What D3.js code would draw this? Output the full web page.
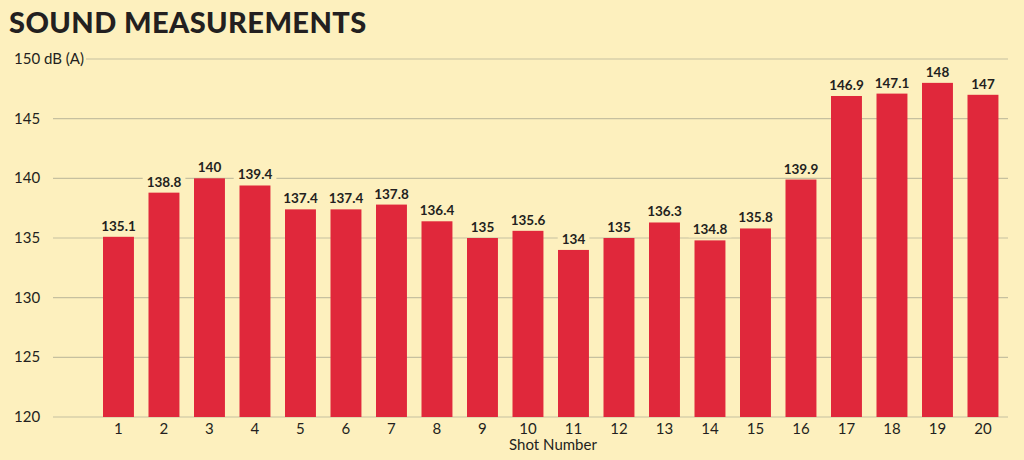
<!DOCTYPE html>
<html><head><meta charset="utf-8">
<script src="https://cdn.jsdelivr.net/npm/d3@7"></script>
<style>
html,body{margin:0;padding:0;background:#fdf0be;}
svg{display:block;}
</style></head>
<body>
<svg id="chart" width="1024" height="460"></svg>
<script>
const shots = ["1","2","3","4","5","6","7","8","9","10","11","12","13","14","15","16","17","18","19","20"];
const values = [135.1,138.8,140,139.4,137.4,137.4,137.8,136.4,135,135.6,134,135,136.3,134.8,135.8,139.9,146.9,147.1,148,147];
const yTicks = [120,125,130,135,140,145,150];
const yTickLabels = ["120","125","130","135","140","145","150 dB (A)"];
const title = "SOUND MEASUREMENTS";
const xTitle = "Shot Number";

const svg = d3.select("#chart");
const W = 1024, H = 460;
svg.append("rect").attr("width",W).attr("height",H).attr("fill","#fdf0be");

const y = d3.scaleLinear().domain([120,150]).range([417,59]);
const step = 45.5, pi = 0.32, po = 0.5;
const x0 = 103 - po*step;
const x = d3.scaleBand().domain(shots).range([x0, x0 + step*(shots.length - pi + 2*po)]).paddingInner(pi).paddingOuter(po);

const font = "Lato, 'Open Sans', sans-serif";
const ink = "#231f20";

// title
svg.append("text").attr("x",9).attr("y",33).text(title)
  .attr("font-family",font).attr("font-weight",900).attr("font-size",29)
  .attr("letter-spacing",0.4).attr("fill",ink);

// gridlines
const grid = svg.append("g");
yTicks.forEach((t,i)=>{
  grid.append("line").attr("x1", t===150 ? 86 : 53).attr("x2",1008)
    .attr("y1",y(t)).attr("y2",y(t)).attr("stroke","#c6c09f").attr("stroke-width",1.2);
  svg.append("text").attr("x",14).attr("y",y(t)+5).text(yTickLabels[i])
    .attr("font-family",font).attr("font-size",15).attr("fill",ink);
});

// bars
svg.append("g").selectAll("rect").data(values).join("rect")
  .attr("x",(d,i)=>x(shots[i])).attr("width",x.bandwidth())
  .attr("y",d=>y(d)).attr("height",d=>y(120)-y(d)).attr("fill","#e0283b");

// value labels with knockout
const lg = svg.append("g");
values.forEach((d,i)=>{
  const cx = x(shots[i]) + x.bandwidth()/2;
  const t = lg.append("text").attr("x",cx).attr("y",y(d)-6).attr("text-anchor","middle")
    .attr("font-family",font).attr("font-weight",700).attr("font-size",13.5).attr("fill",ink).text(d);
  const bb = t.node().getBBox();
  lg.insert("rect","text").attr("x",bb.x-4).attr("y",bb.y).attr("width",bb.width+8).attr("height",bb.height)
    .attr("fill","#fdf0be");
});

// x axis labels
shots.forEach(s=>{
  svg.append("text").attr("x",x(s)+x.bandwidth()/2).attr("y",434).attr("text-anchor","middle")
    .attr("font-family",font).attr("font-size",15).attr("fill",ink).text(s);
});
svg.append("text").attr("x",553).attr("y",450).attr("text-anchor","middle")
  .attr("font-family",font).attr("font-size",15).attr("fill",ink).text(xTitle);
</script>
</body></html>
